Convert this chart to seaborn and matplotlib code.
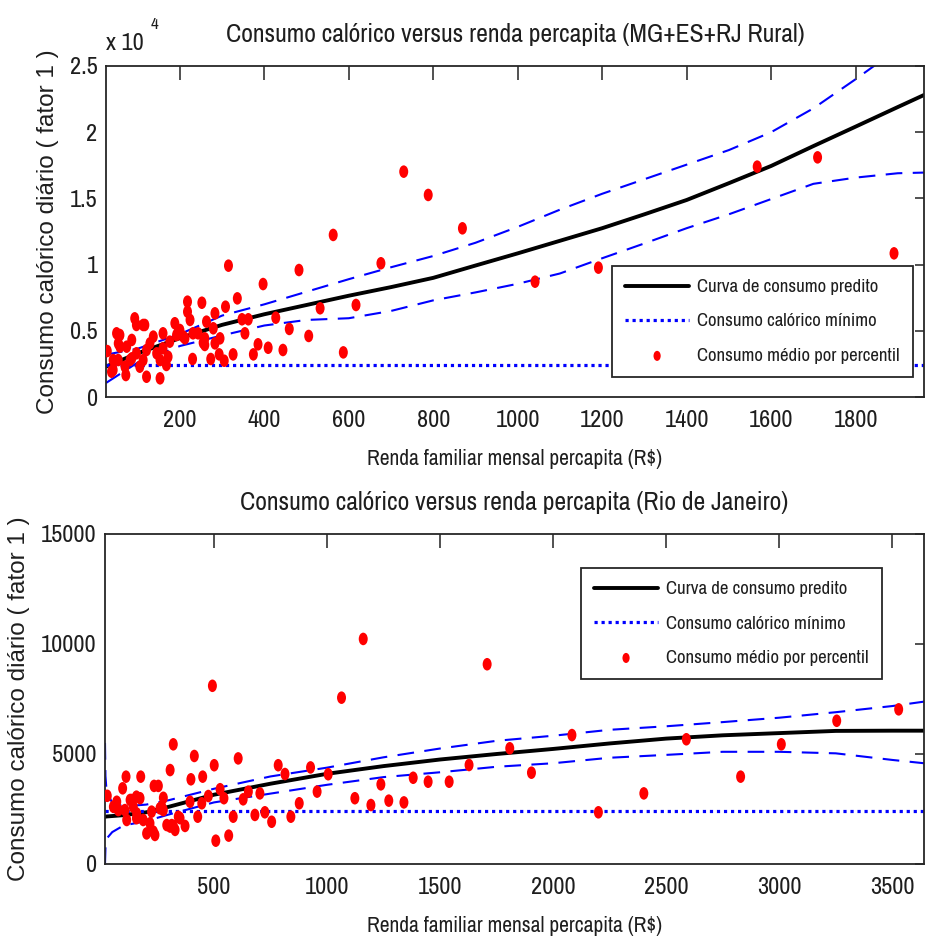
import numpy as np
import pandas as pd
import matplotlib
matplotlib.use("Agg")
import matplotlib.pyplot as plt
from matplotlib.path import Path
from matplotlib.ticker import FuncFormatter
import seaborn as sns

# ---- data ----
MIN_KCAL = 2400

# top panel: MG+ES+RJ rural
top_income = [730, 788, 563, 676, 315, 482, 397, 336, 252, 218, 218, 308, 283, 532, 617,
              427, 347, 362, 354, 459, 505, 587, 444, 409, 385, 374, 326, 295, 293, 305,
              273, 230, 255, 263, 279, 243, 224, 212, 200, 188, 192, 176, 160, 137, 160,
              172, 153, 168, 153, 145, 129, 113, 121, 113, 121, 105, 97, 93, 97, 117,
              86, 82, 74, 70, 72, 58, 54, 42, 50, 58, 54, 42, 28, 38, 86,
              196, 208, 231, 259, 259, 283, 869, 1041, 1191, 1567, 1710, 1891]
top_kcal = [17020, 15260, 12240, 10100, 9920, 9590, 8530, 7450, 7120, 7200, 6440, 6820, 6320, 6700, 6950,
            5990, 5870, 5870, 4810, 5140, 4610, 3370, 3550, 3720, 3980, 3220, 3220, 4430, 3220, 2740,
            2870, 2870, 4100, 5690, 5190, 4810, 5820, 4430, 5060, 5570, 4680, 4180, 4810, 4560, 3680,
            3040, 2790, 2420, 1410, 3300, 4050, 5440, 3550, 2790, 1530, 2290, 3300, 5940, 5440, 5440,
            4310, 2790, 3800, 2290, 1660, 3800, 2790, 2790, 4810, 4680, 4050, 2040, 3470, 1910, 2920,
            4930, 4560, 4810, 4430, 3930, 4050, 12740, 8710, 9770, 17400, 18100, 10850]

top_fit_x = [25, 100, 200, 300, 400, 500, 600, 700, 800, 900, 1000,
             1100, 1200, 1300, 1400, 1500, 1600, 1700, 1800, 1900, 1962]
top_fit = [2300, 3300, 4450, 5450, 6250, 6950, 7650, 8300, 9000, 9930, 10850,
           11800, 12750, 13800, 14880, 16150, 17450, 18950, 20420, 21900, 22810]
top_upper = [3200, 3650, 4750, 6150, 7000, 7950, 8900, 9800, 10650, 11650, 12850,
             14150, 15350, 16450, 17550, 18650, 20000, 21800, 24000, 26300, 28000]
top_lower = [1060, 2600, 3850, 4650, 5400, 5820, 5950, 6500, 7300, 7900, 8550,
             9330, 10480, 11600, 12750, 13800, 14950, 16100, 16570, 16900, 16950]

# bottom panel: Rio de Janeiro
rio_income = [1160, 1064, 493, 320, 413, 607, 501, 306, 784, 814, 927, 1005, 450, 398, 176,
              111, 96, 235, 254, 28, 70, 55, 136, 173, 276, 394, 446, 475, 527, 544,
              652, 629, 703, 585, 681, 725, 755, 840, 877, 956, 1123, 1194, 1238, 1273, 1340,
              1381, 1447, 1540, 508, 565, 428, 372, 350, 320, 291, 239, 202, 217, 187, 158,
              143, 114, 106, 276, 261, 224, 306, 129, 157, 157, 232, 313, 342, 62, 77,
              328, 269, 1708, 1628, 1808, 1904, 2083, 2200, 2401, 2589, 2829, 3009, 3254, 3528]
rio_kcal = [10230, 7560, 8100, 5440, 4910, 4800, 4490, 4270, 4490, 4090, 4390, 4080, 3970, 3850, 3970,
            3970, 3440, 3550, 3550, 3100, 2830, 2600, 2910, 2990, 3010, 2830, 2760, 3090, 3400, 2990,
            3290, 2940, 3210, 2150, 2230, 2350, 1920, 2150, 2760, 3290, 2990, 2680, 3620, 2880, 2800,
            3920, 3740, 3740, 1060, 1290, 2150, 1730, 2080, 1730, 1770, 1320, 1390, 1850, 2000, 2300,
            2600, 2000, 2450, 2450, 2530, 2380, 1700, 2910, 3060, 2080, 1470, 1770, 2150, 2600, 2450,
            1550, 2600, 9080, 4500, 5260, 4150, 5860, 2350, 3210, 5670, 3970, 5440, 6510, 7030]

rio_fit_x = [18, 20, 25, 50, 100, 200, 300, 500, 750, 1000, 1250, 1500, 1750,
             2000, 2250, 2500, 2750, 3000, 3250, 3500, 3640]
rio_fit = [2150, 2150, 2160, 2180, 2220, 2350, 2600, 3150, 3650, 4100, 4450, 4750, 5000,
           5230, 5480, 5700, 5850, 5950, 6050, 6060, 6060]
rio_upper = [5500, 4000, 3300, 2780, 2620, 2700, 2900, 3420, 3980, 4380, 4850, 5250, 5600,
             5830, 6100, 6260, 6450, 6650, 6900, 7180, 7380]
rio_lower = [0, 700, 1150, 1450, 1750, 1950, 2250, 2800, 3200, 3600, 3950, 4170, 4420,
             4580, 4830, 4960, 5100, 5100, 5030, 4730, 4580]

sns.set_style("white")
# the source text is squeezed sideways, so a narrow grotesque fits best
plt.rcParams["font.family"] = ["Archivo Narrow", "Liberation Sans", "DejaVu Sans"]
WIDE = ["Liberation Sans", "DejaVu Sans"]
TXT = "#1e1e1e"

# tall ellipse marker
_c = Path.unit_circle()
DOT = Path(_c.vertices * np.array([1.0, 1.4]), _c.codes)


def panel(ax, title, inc, kcal, fx, fit, up, lo, xlim, ylim, xticks, yticks, leg_anchor):
    sns.lineplot(x=fx, y=up, ax=ax, color="#0000ff", lw=1.5,
                 linestyle=(0, (8, 5)), sort=False, estimator=None)
    sns.lineplot(x=fx, y=lo, ax=ax, color="#0000ff", lw=1.5,
                 linestyle=(0, (8, 5)), sort=False, estimator=None)
    sns.lineplot(x=fx, y=fit, ax=ax, color="black", lw=2.8, sort=False,
                 estimator=None, label="Curva de consumo predito")
    ax.axhline(MIN_KCAL, color="#0000ff", lw=2.3, linestyle=(0, (1, 1.2)),
               label="Consumo calórico mínimo")
    sns.scatterplot(x=inc, y=kcal, ax=ax, marker=DOT, s=82, color="#ff0000",
                    edgecolor="none", label="Consumo médio por percentil", zorder=3)

    ax.set_xlim(*xlim)
    ax.set_ylim(*ylim)
    ax.set_xticks(xticks)
    ax.set_yticks(yticks)
    ax.tick_params(axis="both", direction="in", top=True, right=True,
                   labelsize=17.5, labelcolor=TXT, color="#222222", width=1.1)
    ax.tick_params(axis="x", length=10, pad=9)
    ax.tick_params(axis="y", length=6.5, pad=6)
    for s in ax.spines.values():
        s.set_linewidth(1.3)
        s.set_color("#262626")

    ax.set_title(title, fontsize=18.5, color=TXT, pad=17)
    ax.set_xlabel("Renda familiar mensal percapita (R$)", fontsize=15.5, color=TXT, labelpad=13)
    ax.set_ylabel("Consumo calórico diário ( fator 1 )", fontsize=17.5, color=TXT,
                  family=WIDE, labelpad=8)

    h, l = ax.get_legend_handles_labels()
    leg = ax.legend(h, l, loc="upper right", bbox_to_anchor=leg_anchor, borderaxespad=0,
                    fontsize=13.5, frameon=True, fancybox=False, edgecolor="#262626",
                    framealpha=1, handlelength=3.4, handletextpad=0.45, labelspacing=0.97,
                    borderpad=0.7, scatterpoints=1, markerscale=0.8)
    leg.get_frame().set_linewidth(1.3)
    for t in leg.get_texts():
        t.set_color(TXT)


fig = plt.figure(figsize=(9.25, 9.4), dpi=100)
ax1 = fig.add_axes([106 / 925, 1 - 397 / 940, 818 / 925, 331 / 940])
ax2 = fig.add_axes([105 / 925, 1 - 864 / 940, 819 / 925, 330 / 940])

panel(ax1, "Consumo calórico versus renda percapita (MG+ES+RJ Rural)",
      top_income, top_kcal, top_fit_x, top_fit, top_upper, top_lower,
      (25, 1962), (0, 25000), [200, 400, 600, 800, 1000, 1200, 1400, 1600, 1800],
      [0, 5000, 10000, 15000, 20000, 25000], (0.9866, 0.396))
ax1.yaxis.set_major_formatter(FuncFormatter(lambda v, p: f"{v / 1e4:g}"))
ax1.text(0.0, 1.068, "x 10", transform=ax1.transAxes, fontsize=17.5, color=TXT,
         ha="left", va="center")
ax1.text(0.055, 1.125, "4", transform=ax1.transAxes, fontsize=12, color=TXT,
         ha="left", va="center")

panel(ax2, "Consumo calórico versus renda percapita (Rio de Janeiro)",
      rio_income, rio_kcal, rio_fit_x, rio_fit, rio_upper, rio_lower,
      (18, 3640), (0, 15000), [500, 1000, 1500, 2000, 2500, 3000, 3500],
      [0, 5000, 10000, 15000], (0.9487, 0.897))

fig.savefig("out.png", dpi=100)
